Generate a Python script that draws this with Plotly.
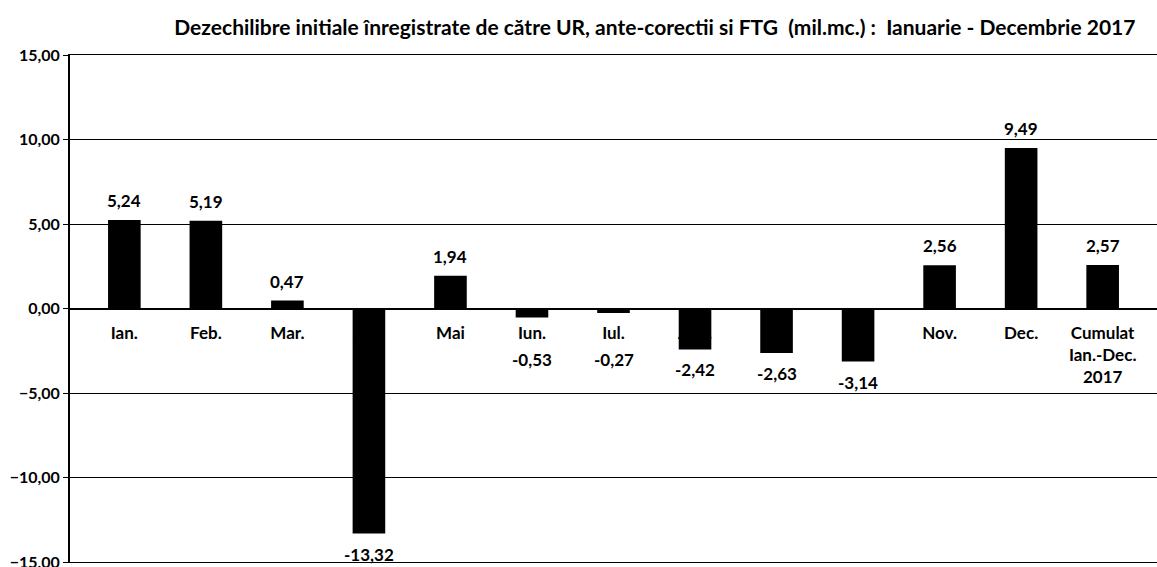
import plotly.graph_objects as go

# Monthly initial imbalances (mil. m3), January - December 2017, plus the cumulated total
categories = ["Ian.", "Feb.", "Mar.", "Apr.", "Mai", "Iun.", "Iul.", "Aug.", "Sep.",
              "Oct.", "Nov.", "Dec.", "Cumulat<br>Ian.-Dec.<br>2017"]
values = [5.24, 5.19, 0.47, -13.32, 1.94, -0.53, -0.27, -2.42, -2.63, -3.14, 2.56, 9.49, 2.57]

title_text = ("Dezechilibre initiale înregistrate de către UR, ante-corectii si FTG  "
              "(mil.mc.) :  Ianuarie - Decembrie 2017")

FONT = "Lato"
LABEL_FONT = dict(family=FONT, size=17, color="black", weight="bold")

fig = go.Figure()

# Category names sit just under the zero line, behind the bars (drawn first)
fig.add_trace(go.Scatter(
    x=categories, y=[-1.05] * len(categories), mode="text",
    text=categories, textposition="bottom center",
    textfont=LABEL_FONT,
    hoverinfo="skip", showlegend=False, cliponaxis=False,
))

fig.add_trace(go.Bar(
    x=categories, y=values, marker=dict(color="black", line=dict(width=0)),
    showlegend=False,
))

# Value labels: above positive bars, below negative bars (kept clear of the category names)
for cat, v in zip(categories, values):
    label = f"{v:.2f}".replace(".", ",")
    if v >= 0:
        fig.add_annotation(x=cat, y=v, text=label, showarrow=False,
                           yanchor="bottom", yshift=7, font=LABEL_FONT)
    else:
        fig.add_annotation(x=cat, y=min(v, -1.8), text=label, showarrow=False,
                           yanchor="top", yshift=-8, font=LABEL_FONT)

fig.update_layout(
    width=1157, height=567,
    margin=dict(l=70, r=0, t=55, b=5, autoexpand=False),
    paper_bgcolor="white", plot_bgcolor="white",
    separators=", ",
    bargap=0.6,
    title=dict(text=title_text, x=0.566, xanchor="center", y=0.952, yanchor="middle",
               font=dict(family=FONT, size=21, color="black", weight="bold")),
    xaxis=dict(showticklabels=False, showgrid=False, zeroline=False, ticks="",
               showline=True, linecolor="black", linewidth=1, mirror=True,
               automargin=False),
    yaxis=dict(range=[-15, 15], dtick=5, tickformat=".2f",
               showgrid=True, gridcolor="black", gridwidth=1,
               zeroline=True, zerolinecolor="black", zerolinewidth=2,
               showline=True, linecolor="black", linewidth=2,
               ticks="outside", ticklen=5, tickcolor="black",
               ticklabeloverflow="allow", automargin=False,
               tickfont=dict(family=FONT, size=16, color="black", weight="bold")),
)

fig.write_html("out.html")
